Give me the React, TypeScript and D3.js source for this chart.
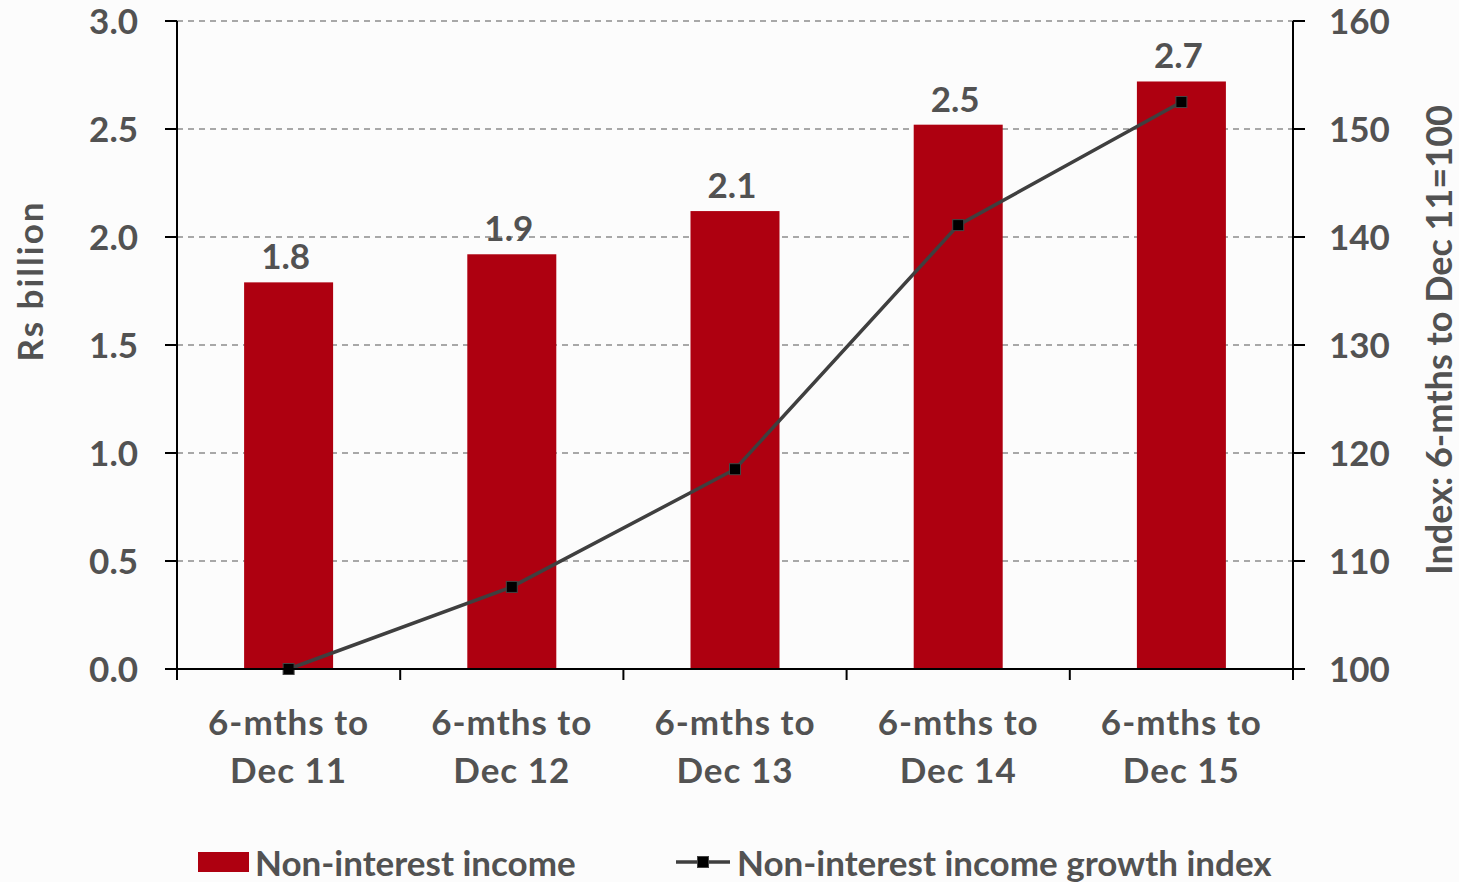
import React from "react";
import * as d3 from "d3";

const categories = ["Dec 11", "Dec 12", "Dec 13", "Dec 14", "Dec 15"];
const barValues = [1.79, 1.92, 2.12, 2.52, 2.72];
const barLabels = ["1.8", "1.9", "2.1", "2.5", "2.7"];
const indexValues = [100, 107.6, 118.5, 141.1, 152.5];
const leftTicks = [0, 0.5, 1.0, 1.5, 2.0, 2.5, 3.0];
const rightTicks = [100, 110, 120, 130, 140, 150, 160];

const W = 1459;
const H = 882;
const M = { left: 177, right: 1293, top: 21, bottom: 669 };
const FONT = "Lato, 'Open Sans', sans-serif";
const TXT = "#525252";
const RED = "#AE0010";

export default function App() {
  const xb = d3.scaleBand<string>().domain(categories).range([M.left, M.right]);
  const yL = d3.scaleLinear().domain([0, 3]).range([M.bottom, M.top]);
  const yR = d3.scaleLinear().domain([100, 160]).range([M.bottom, M.top]);
  const cxOf = (c: string) => (xb(c) as number) + xb.bandwidth() / 2;
  const line = d3
    .line<number>()
    .x((_, i) => cxOf(categories[i]))
    .y((d) => yR(d));
  const boundaries = [...categories.map((c) => xb(c) as number), M.right];

  return (
    <svg width={W} height={H} style={{ position: "absolute", left: 0, top: 0, background: "#fdfdfd" }} fontFamily={FONT}>
      <rect x={0} y={0} width={W} height={H} fill="#fcfcfc" />
      {leftTicks.slice(1).map((t) => (
        <line key={"g" + t} x1={M.left} x2={M.right} y1={yL(t)} y2={yL(t)} stroke="#8c8c8c" strokeWidth={1.5} strokeDasharray="6,5" />
      ))}
      {barValues.map((v, i) => {
        const c = categories[i];
        const cx = cxOf(c);
        const bw = 89;
        return (
          <g key={c}>
            <rect x={cx - bw / 2} y={yL(v)} width={bw} height={yL(0) - yL(v)} fill={RED} />
            <text x={cx - 3} y={yL(v) - 13} textAnchor="middle" fontSize={35} fontWeight={700} fill={TXT}>
              {barLabels[i]}
            </text>
          </g>
        );
      })}
      <path d={line(indexValues) || ""} fill="none" stroke="#3f3f3f" strokeWidth={3.5} />
      {indexValues.map((v, i) => (
        <rect key={"m" + i} x={cxOf(categories[i]) - 5.5} y={yR(v) - 5.5} width={11} height={11} fill="#000" stroke="#444" strokeWidth={1} />
      ))}
      <line x1={M.left} x2={M.left} y1={M.top} y2={M.bottom + 10} stroke="#000" strokeWidth={2} />
      <line x1={M.right} x2={M.right} y1={M.top} y2={M.bottom + 10} stroke="#000" strokeWidth={2} />
      <line x1={M.left - 12} x2={M.right + 12} y1={M.bottom} y2={M.bottom} stroke="#000" strokeWidth={2} />
      {boundaries.map((b, i) => (
        <line key={"bt" + i} x1={b} x2={b} y1={M.bottom} y2={M.bottom + 11} stroke="#000" strokeWidth={2} />
      ))}
      {leftTicks.map((t) => (
        <g key={"l" + t}>
          <line x1={M.left - 12} x2={M.left} y1={yL(t)} y2={yL(t)} stroke="#000" strokeWidth={2} />
          <text x={M.left - 39} y={yL(t)} dy="0.36em" textAnchor="end" fontSize={35} fontWeight={700} fill={TXT}>
            {t.toFixed(1)}
          </text>
        </g>
      ))}
      {rightTicks.map((t) => (
        <g key={"r" + t}>
          <line x1={M.right} x2={M.right + 12} y1={yR(t)} y2={yR(t)} stroke="#000" strokeWidth={2} />
          <text x={M.right + 36} y={yR(t)} dy="0.36em" textAnchor="start" fontSize={35} fontWeight={700} fill={TXT}>
            {t}
          </text>
        </g>
      ))}
      {categories.map((c) => {
        const cx = cxOf(c);
        return (
          <text key={"c" + c} x={cx} textAnchor="middle" fontSize={35} fontWeight={700} fill={TXT} letterSpacing={1}>
            <tspan x={cx} y={735}>6-mths to</tspan>
            <tspan x={cx} y={783}>{c}</tspan>
          </text>
        );
      })}
      <text transform={`translate(43,281) rotate(-90)`} textAnchor="middle" fontSize={35} fontWeight={700} fill={TXT} letterSpacing={2}>
        Rs billion
      </text>
      <text transform={`translate(1452,340) rotate(-90)`} textAnchor="middle" fontSize={36} fontWeight={700} fill={TXT}>
        Index: 6-mths to Dec 11=100
      </text>
      <rect x={198} y={852} width={51} height={20} fill={RED} />
      <text x={255} y={876} fontSize={35} fontWeight={700} fill={TXT}>Non-interest income</text>
      <line x1={676} x2={730} y1={862} y2={862} stroke="#3f3f3f" strokeWidth={3.5} />
      <rect x={697.5} y={856.5} width={11} height={11} fill="#000" stroke="#444" strokeWidth={1} />
      <text x={737} y={876} fontSize={35} fontWeight={700} fill={TXT}>Non-interest income growth index</text>
    </svg>
  );
}
